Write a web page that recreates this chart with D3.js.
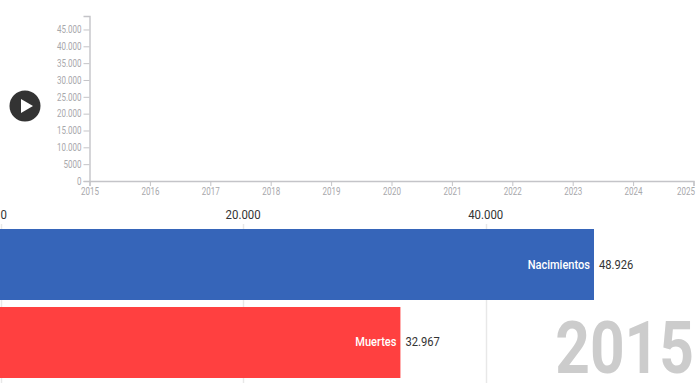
<!DOCTYPE html>
<html><head><meta charset="utf-8">
<script src="https://cdn.jsdelivr.net/npm/d3@7"></script>
<style>
html,body{margin:0;padding:0;background:#fff;overflow:hidden}
svg{display:block;font-family:Roboto,sans-serif}
</style></head><body><div id="c"></div>
<script>
const categories=["Nacimientos","Muertes"];
const barValues=[48926,32967];
const barColors=["#3060b7","#ff3a3a"];
const barTicks=[0,20000,40000];
const years=[2015,2016,2017,2018,2019,2020,2021,2022,2023,2024,2025];
const lineTicks=[0,5000,10000,15000,20000,25000,30000,35000,40000,45000];
const currentYear="2015";
const fmt=v=>v<10000?String(v):d3.format(",")(v).replace(/,/g,".");
function condense(sel,k){sel.each(function(){const w=this.getComputedTextLength();
  d3.select(this).attr("textLength",w*k).attr("lengthAdjust","spacingAndGlyphs");});}

const svg=d3.select("#c").append("svg").attr("width",697).attr("height",383);

const x=d3.scaleLinear().domain([0,48926]).range([0.5,594]);
const y=d3.scaleBand().domain(categories).range([229,378]).paddingInner(0.0897);

const tx=d3.scaleLinear().domain([2015,2025]).range([89.5,693.5]);
const ty=d3.scaleLinear().domain([0,49000]).range([181,16]);

const grid=svg.append("g");
grid.selectAll("line").data(barTicks).join("line")
  .attr("x1",d=>Math.round(x(d))+.5).attr("x2",d=>Math.round(x(d))+.5)
  .attr("y1",224).attr("y2",383).attr("stroke","#e8e8e8").attr("stroke-width",1.5);
const topLabels=grid.selectAll("text").data(barTicks).join("text")
  .attr("x",x).attr("y",219).attr("text-anchor",d=>d===0?"start":"middle")
  .attr("font-size",12).attr("fill","#333").text(fmt);
condense(topLabels,0.95);

svg.append("g").selectAll("rect").data(barValues).join("rect")
  .attr("x",0).attr("y",(d,i)=>y(categories[i]))
  .attr("width",d=>x(d)).attr("height",y.bandwidth())
  .attr("fill",(d,i)=>barColors[i]).attr("fill-opacity",0.97);
const names=svg.append("g").selectAll("text").data(barValues).join("text")
  .attr("x",d=>x(d)-4).attr("y",(d,i)=>y(categories[i])+y.bandwidth()/2+4)
  .attr("text-anchor","end").attr("font-size",12).attr("font-weight",500).attr("fill","#fff")
  .text((d,i)=>categories[i]);
condense(names,0.92);
const vals=svg.append("g").selectAll("text").data(barValues).join("text")
  .attr("x",d=>x(d)+5).attr("y",(d,i)=>y(categories[i])+y.bandwidth()/2+4)
  .attr("font-size",12).attr("fill","#333").text(fmt);
condense(vals,0.93);

const gy=svg.append("g").attr("transform","translate(89.5,0)")
  .call(d3.axisLeft(ty).tickValues(lineTicks).tickSize(6).tickPadding(2).tickFormat(fmt));
const gx=svg.append("g").attr("transform","translate(0,181)")
  .call(d3.axisBottom(tx).tickValues(years).tickSize(5).tickPadding(2).tickFormat(d3.format("d")));
gx.selectAll(".tick").filter(d=>d===2025).select("text").attr("text-anchor","end").attr("x",1);
[gy,gx].forEach(g=>{
  g.selectAll(".domain").attr("stroke","#c4c4c8").attr("stroke-width",1.4);
  g.selectAll(".tick line").attr("stroke","#c4c4c8");
  const t=g.selectAll("text").attr("fill","#a8a8ac").attr("font-size",10).attr("font-family","Roboto,sans-serif");
  condense(t,0.8);
});

const play=svg.append("g").attr("transform","translate(25,106)");
play.append("circle").attr("r",15.5).attr("fill","#333");
play.append("path").attr("d","M-4,-7L8,0L-4,7Z").attr("fill","#fff");

const yr=svg.append("text").attr("x",694).attr("y",373).attr("text-anchor","end")
  .attr("font-size",72).attr("font-weight",700).attr("fill","#ccc").text(currentYear);
condense(yr,0.84);
</script></body></html>
